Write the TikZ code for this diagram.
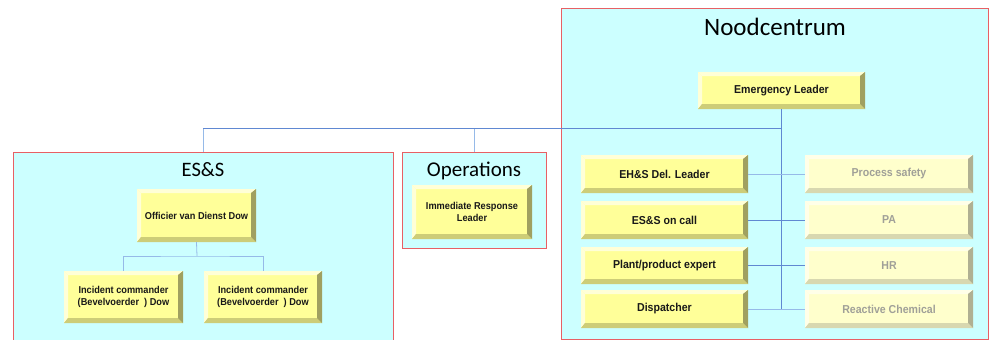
\documentclass[tikz,border=0pt]{standalone}
\usepackage{fontspec}
\setmainfont{Liberation Sans}
\newfontfamily\boxfont[FakeStretch=0.92]{Liberation Sans}
\newfontfamily\titlefont{Carlito}
\definecolor{regfill}{RGB}{204,255,255}
\definecolor{regline}{RGB}{232,96,100}
\definecolor{busline}{RGB}{96,136,210}
\definecolor{lightline}{RGB}{150,186,232}
\definecolor{yfill}{RGB}{255,255,153}
\definecolor{ylight}{RGB}{255,255,215}
\definecolor{ybottom}{RGB}{205,205,120}
\definecolor{yright}{RGB}{160,160,96}
\definecolor{ffill}{RGB}{255,255,204}
\definecolor{flight}{RGB}{255,255,232}
\definecolor{fbottom}{RGB}{216,216,176}
\definecolor{fright}{RGB}{176,176,146}
\definecolor{ftext}{RGB}{160,160,152}
\tikzset{
  bev/.style n args={4}{rectangle, inner sep=1pt, fill=#1, align=center,
    path picture={
      \def\pb{path picture bounding box}
      \fill[#2] (\pb.north west) -- (\pb.north east) -- ([shift={(-5pt,-4pt)}]\pb.north east) -- ([shift={(4pt,-4pt)}]\pb.north west) -- cycle;
      \fill[#2] (\pb.north west) -- ([shift={(4pt,-4pt)}]\pb.north west) -- ([shift={(4pt,5pt)}]\pb.south west) -- (\pb.south west) -- cycle;
      \fill[#3] (\pb.south west) -- ([shift={(4pt,5pt)}]\pb.south west) -- ([shift={(-5pt,5pt)}]\pb.south east) -- (\pb.south east) -- cycle;
      \fill[#4] (\pb.south east) -- ([shift={(-5pt,5pt)}]\pb.south east) -- ([shift={(-5pt,-4pt)}]\pb.north east) -- (\pb.north east) -- cycle;
    }},
  mainbox/.style={bev={yfill}{ylight}{ybottom}{yright}, text=black!90, font=\boxfont\bfseries\fontsize{11.5}{13}\selectfont},
  smallbox/.style={bev={yfill}{ylight}{ybottom}{yright}, text=black!90, font=\boxfont\bfseries\fontsize{10}{12.7}\selectfont},
  fadebox/.style={bev={ffill}{flight}{fbottom}{fright}, text=ftext, font=\boxfont\bfseries\fontsize{11.5}{13}\selectfont},
  region/.style={rectangle, draw=regline, line width=1pt, fill=regfill, inner sep=0pt},
  title/.style={anchor=base, inner sep=0pt, text=black},
  bus/.style={draw=busline, line width=0.8pt},
  lbus/.style={draw=lightline, line width=0.8pt}
}
\newcommand\mkbox[7]{%
  \pgfmathsetmacro\cxx{(#2+#4)/2}\pgfmathsetmacro\cyy{(#3+#5)/2}%
  \pgfmathsetmacro\ww{#4-#2}\pgfmathsetmacro\hh{#5-#3}%
  \node[#6, minimum width=\ww pt, minimum height=\hh pt] (#1) at (\cxx,\cyy) {#7};}
\begin{document}
\begin{tikzpicture}[x=1pt,y=-1pt]
\useasboundingbox (0,0) rectangle (989,340);
\fill[white] (0,0) rectangle (989,340);
% regions
\mkbox{noodreg}{561}{8}{988}{339}{region}{}
\mkbox{essreg}{13}{152}{393}{342}{region}{}
\mkbox{opsreg}{402}{152}{546}{248}{region}{}
\node[title, font=\titlefont\fontsize{25}{30}\selectfont] (noodtitle) at (775,35.7) {Noodcentrum};
\node[title, font=\titlefont\fontsize{20.5}{24}\selectfont] (esstitle) at (203,176.7) {ES\&S};
\node[title, font=\titlefont\fontsize{21}{24}\selectfont] (opstitle) at (474,176.7) {Operations};
% boxes
\mkbox{el}{698}{72}{865}{109}{mainbox}{Emergency Leader}
\mkbox{ehs}{581}{155}{748}{193}{mainbox}{EH\&S Del. Leader}
\mkbox{oncall}{581}{201}{748}{239}{mainbox}{ES\&S on call}
\mkbox{plant}{581}{247}{748}{284}{mainbox}{Plant/product expert}
\mkbox{disp}{581}{290}{748}{328}{mainbox}{Dispatcher}
\mkbox{ps}{805}{155}{973}{193}{fadebox}{Process safety}
\mkbox{pa}{805}{201}{973}{239}{fadebox}{PA}
\mkbox{hr}{805}{247}{973}{284}{fadebox}{HR}
\mkbox{rc}{805}{290}{973}{328}{fadebox}{Reactive Chemical}
\mkbox{ovd}{137}{189}{256}{242}{smallbox}{Officier van Dienst Dow}
\mkbox{ica}{64}{271}{183}{323}{smallbox}{Incident commander\\(Bevelvoerder\ \ ) Dow}
\mkbox{icb}{204}{271}{322}{323}{smallbox}{Incident commander\\(Bevelvoerder\ \ ) Dow}
\mkbox{irl}{412}{185}{532}{239}{smallbox}{Immediate Response\\Leader}
% connectors
\coordinate (busend) at (781,128);
\coordinate (essjoin) at (197,256);
\draw[lbus] (essreg.north) -- (essreg.north |- busend);
\draw[lbus] (opsreg.north) -- (opsreg.north |- busend);
\draw[bus] (essreg.north |- busend) -- (busend);
\draw[bus] (el.south -| busend) -- (busend |- disp.east);
\draw[lbus] (ehs.east) -- (ps.west);
\draw[bus] (oncall.east) -- (pa.west);
\draw[bus] (plant.east) -- (hr.west);
\draw[lbus] (disp.east) -- (rc.west);
\draw[lbus] (ovd.south) -- (essjoin);
\draw[lbus] (ica.north) |- (essjoin) -| (icb.north);
\end{tikzpicture}
\end{document}
